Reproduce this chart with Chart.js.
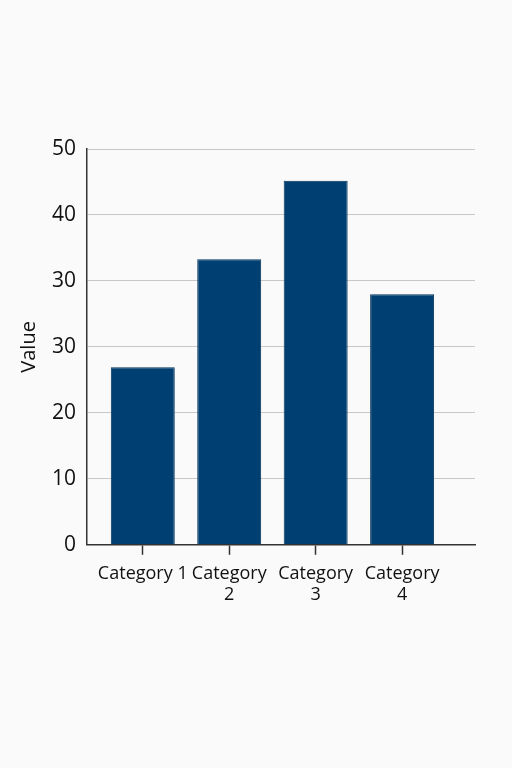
<!DOCTYPE html>
<html>
<head>
<meta charset="utf-8">
<script src="https://cdn.jsdelivr.net/npm/chart.js@4"></script>
<style>
  html, body { margin: 0; padding: 0; background: #fafafa; }
  #wrap { width: 512px; height: 768px; }
</style>
</head>
<body>
<div id="wrap"><canvas id="barChart"></canvas></div>
<script>
const categories = ['Category 1', ['Category', '2'], ['Category', '3'], ['Category', '4']];
const values = [26.9, 43.3, 55.2, 38.0];
const yTickLabels = ['0', '10', '20', '30', '30', '40', '50'];

const BAR_COLOR = '#003f72';
const TEXT_COLOR = '#111';
const FONT = '"Open Sans", "Noto Sans", sans-serif';

// bars sit on a linear x axis so the plot can be off-centre like the reference
const points = values.map((v, i) => ({ x: i + 1, y: v }));

new Chart(document.getElementById('barChart'), {
    type: 'bar',
    data: {
        datasets: [{
            label: 'Value',
            data: points,
            backgroundColor: BAR_COLOR,
            borderColor: '#00325c',
            borderWidth: 1,
            barPercentage: 0.74,
            categoryPercentage: 1
        }]
    },
    options: {
        responsive: true,
        maintainAspectRatio: false,
        animation: false,
        layout: {
            padding: { top: 149, right: 37, bottom: 154, left: 3 }
        },
        plugins: {
            legend: { display: false },
            tooltip: { enabled: false }
        },
        scales: {
            x: {
                type: 'linear',
                offset: false,
                min: 0.355,
                max: 4.843,
                afterBuildTicks: (scale) => {
                    scale.ticks = categories.map((c, i) => ({ value: i + 1 }));
                },
                // labels stay inside the plot, so no extra side padding needed
                afterFit: (scale) => {
                    scale.paddingLeft = 0;
                    scale.paddingRight = 0;
                },
                ticks: {
                    callback: (value) => categories[value - 1],
                    color: TEXT_COLOR,
                    font: { family: FONT, size: 18 },
                    padding: 8,
                    maxRotation: 0,
                    autoSkip: false
                },
                grid: {
                    offset: false,
                    drawOnChartArea: false,
                    drawTicks: true,
                    tickLength: 10,
                    tickWidth: 1.5,
                    tickColor: '#333'
                },
                border: { color: '#333', width: 1.5 }
            },
            y: {
                min: 0,
                max: 60,
                ticks: {
                    stepSize: 10,
                    callback: (value, index) => yTickLabels[index],
                    color: TEXT_COLOR,
                    font: { family: FONT, size: 21 },
                    padding: 11
                },
                grid: {
                    color: '#c8c8c8',
                    lineWidth: 1,
                    drawTicks: false
                },
                border: { color: '#333', width: 1.5 },
                title: {
                    display: true,
                    text: 'Value',
                    color: TEXT_COLOR,
                    font: { family: FONT, size: 20 },
                    padding: { top: 14, bottom: 0 }
                }
            }
        }
    }
});
</script>
</body>
</html>
